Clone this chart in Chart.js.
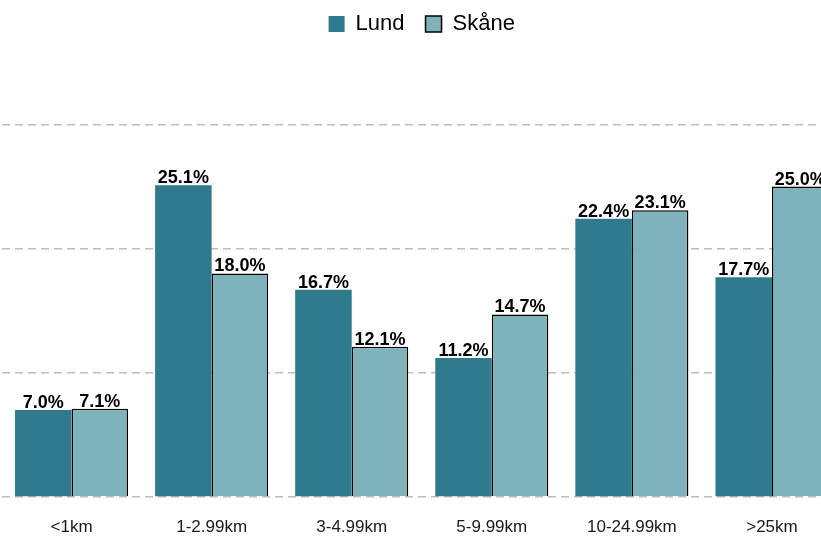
<!DOCTYPE html>
<html lang="sv">
<head>
<meta charset="UTF-8">
<title>Avstånd</title>
<style>
    html, body {
        margin: 0;
        padding: 0;
        background: #ffffff;
        overflow: hidden;
    }
    #chart {
        display: block;
    }
</style>
<script src="https://cdn.jsdelivr.net/npm/chart.js"></script>
</head>
<body>
<canvas id="chart" width="842" height="536"></canvas>
<script>
var categories = ['<1km', '1-2.99km', '3-4.99km', '5-9.99km', '10-24.99km', '>25km'];
var lund = [7.0, 25.1, 16.7, 11.2, 22.4, 17.7];
var skane = [7.1, 18.0, 12.1, 14.7, 23.1, 25.0];
var gridTicks = [0, 10, 20, 30];

var fontFamily = '"Liberation Sans", Arial, sans-serif';

// draws the percent label above each bar
var barLabels = {
    id: 'barLabels',
    afterDatasetsDraw: function(chart) {
        var ctx = chart.ctx;
        ctx.save();
        ctx.font = 'bold 18px ' + fontFamily;
        ctx.fillStyle = '#000000';
        ctx.textAlign = 'center';
        ctx.textBaseline = 'alphabetic';
        chart.data.datasets.forEach(function(ds, i) {
            var meta = chart.getDatasetMeta(i);
            meta.data.forEach(function(bar, j) {
                ctx.fillText(ds.data[j].toFixed(1) + '%', bar.x, bar.y - 2);
            });
        });
        ctx.restore();
    }
};

new Chart(document.getElementById('chart'), {
    type: 'bar',
    data: {
        labels: categories,
        datasets: [{
            label: 'Lund',
            data: lund,
            backgroundColor: '#2f7b8d',
            borderWidth: 0
        }, {
            label: 'Skåne',
            data: skane,
            backgroundColor: '#7fb3bc',
            borderColor: '#000000',
            borderWidth: 1.5
        }]
    },
    options: {
        responsive: false,
        animation: false,
        devicePixelRatio: 1,
        layout: {
            padding: { left: 1.5, right: 0, top: -8, bottom: 0 }
        },
        datasets: {
            bar: {
                categoryPercentage: 0.807,
                barPercentage: 1.0
            }
        },
        plugins: {
            legend: {
                position: 'top',
                labels: {
                    font: { family: fontFamily, size: 22 },
                    color: '#000000',
                    boxWidth: 16,
                    boxHeight: 16,
                    padding: 21
                }
            },
            tooltip: { enabled: false }
        },
        scales: {
            x: {
                afterFit: function(scale) { scale.height = 39; },
                grid: { display: false, drawTicks: false },
                border: { display: false },
                ticks: {
                    font: { family: fontFamily, size: 17 },
                    color: '#1a1a1a',
                    padding: 20,
                    maxRotation: 0
                }
            },
            y: {
                min: 0,
                max: 36.4,
                afterFit: function(scale) { scale.width = 0; },
                afterBuildTicks: function(scale) {
                    scale.ticks = gridTicks.map(function(v) { return { value: v }; });
                },
                grid: {
                    color: '#bdbdbd',
                    lineWidth: 1.5,
                    drawTicks: false
                },
                border: { display: false, dash: [8, 5] },
                ticks: { display: false }
            }
        }
    },
    plugins: [barLabels]
});
</script>
</body>
</html>
